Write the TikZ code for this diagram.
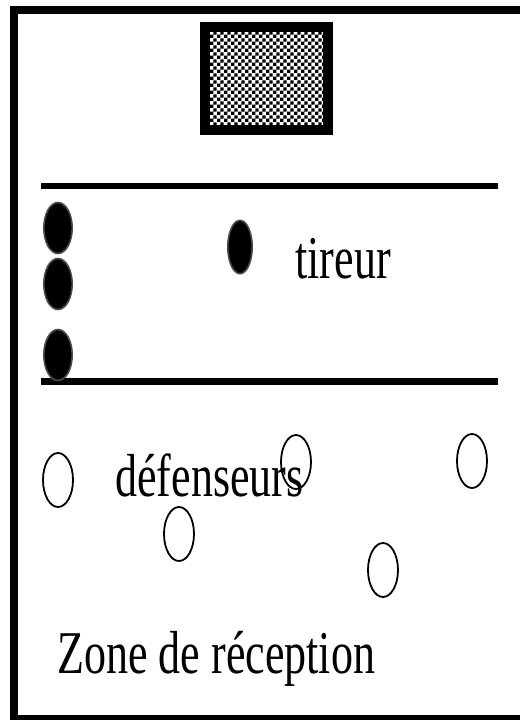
\documentclass[tikz,border=0pt]{standalone}
\usepackage{fontspec}
\setmainfont{Liberation Serif}
\usetikzlibrary{shapes.geometric,patterns}

\newcommand{\hautxt}[1]{\scalebox{1}[1.38]{#1}}

% damier fin pour le filet du but
\pgfdeclarepatternformonly{damier}{\pgfpointorigin}{\pgfqpoint{3.4pt}{3.4pt}}{\pgfqpoint{3.4pt}{3.4pt}}{%
    \pgfpathrectangle{\pgfpointorigin}{\pgfqpoint{1.7pt}{1.7pt}}%
    \pgfpathrectangle{\pgfqpoint{1.7pt}{1.7pt}}{\pgfqpoint{1.7pt}{1.7pt}}%
    \pgfusepath{fill}}

\begin{document}
\begin{tikzpicture}[
    x=0.5pt, y=-0.5pt,
    every node/.style={font=\fontsize{22}{26}\selectfont, inner sep=0pt},
    attaquant/.style={ellipse, draw=black!70, fill=black, line width=0.8pt,
        minimum width=14.2pt, minimum height=25.5pt},
    defenseur/.style={ellipse, draw=black, line width=0.9pt,
        minimum width=15pt, minimum height=27pt},
    ligne/.style={line width=3.2pt},
    but/.style={draw=black, line width=5pt, pattern=damier,
        minimum width=61.5pt, minimum height=51.5pt}
]

\useasboundingbox (0,0) rectangle (520,720);

% -----------------------------
% Cadre du terrain
% -----------------------------
\draw[line width=4pt, line join=miter]
(521,9.5) -- (14.5,9.5) -- (14.5,718.5) -- (521,718.5);

% -----------------------------
% But
% -----------------------------
\node[but] (goal) at (266.5,78) {};

% -----------------------------
% Zone des attaquants
% -----------------------------
\coordinate (haut1) at (41,186);
\coordinate (haut2) at (498,186);
\coordinate (bas1) at (41,381.5);
\coordinate (bas2) at (498,381.5);

\draw[ligne] (haut1) -- (haut2);
\draw[ligne] (bas1) -- (bas2);

\node[attaquant] (att1) at (58,228) {};
\node[attaquant] (att2) at (58,284) {};
\node[attaquant] (att3) at (58,355) {};

\node[attaquant, minimum width=12.2pt, minimum height=26.7pt]
(shooter) at (240,247) {};

\node[anchor=base west] (lbltireur) at (295,278) {\hautxt{tireur}};

% -----------------------------
% Zone de reception
% -----------------------------
\node[anchor=base west] (lbldef) at (115,496) {\hautxt{défenseurs}};

\node[defenseur] (def1) at (58,480) {};
\node[defenseur] (def2) at (296,462) {};
\node[defenseur] (def3) at (472,461) {};
\node[defenseur] (def4) at (179,534) {};
\node[defenseur] (def5) at (383,570) {};

\node[anchor=base west] (lblzone) at (57,673) {\hautxt{Zone de réception}};

\end{tikzpicture}
\end{document}
